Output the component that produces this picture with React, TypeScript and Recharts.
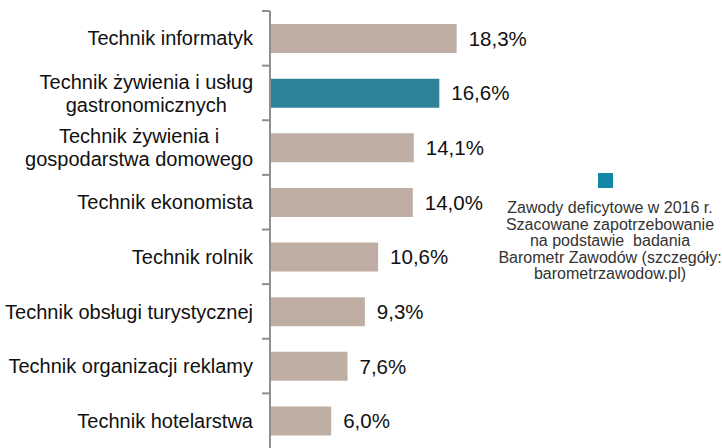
import { BarChart, Bar, XAxis, YAxis, Cell, LabelList } from 'recharts'

const categories = [
  'Technik informatyk',
  'Technik żywienia i usług\ngastronomicznych',
  'Technik żywienia i\ngospodarstwa domowego',
  'Technik ekonomista',
  'Technik rolnik',
  'Technik obsługi turystycznej',
  'Technik organizacji reklamy',
  'Technik hotelarstwa',
]
const shares = [18.3, 16.6, 14.1, 14.0, 10.6, 9.3, 7.6, 6.0]
const deficit = [false, true, false, false, false, false, false, false]
const legendLines = [
  'Zawody deficytowe w 2016 r.',
  'Szacowane zapotrzebowanie',
  'na podstawie  badania',
  'Barometr Zawodów (szczegóły:',
  'barometrzawodow.pl)',
]

const data = categories.map((name, i) => ({ name, share: shares[i], deficit: deficit[i] }))

const W = 722
const H = 448
const MARGIN = { top: 11, right: 44, bottom: 0, left: 0 }
const BAND = (H - MARGIN.top - MARGIN.bottom) / categories.length
const TICK_SIZE = 8
const TICK_MARGIN = 9
const AXIS_COLOR = '#8f8f8f'
const FONT = '"Liberation Sans", Arial, sans-serif'
const LABEL_SIZE = 20
const LINE_H = 23

const TAN = '#bfaea4'
const TEAL = '#2e8399'

let ctx: CanvasRenderingContext2D | null = null
function measure(s: string) {
  if (!ctx) ctx = document.createElement('canvas').getContext('2d')
  if (!ctx) return s.length * LABEL_SIZE * 0.5
  ctx.font = `${LABEL_SIZE}px ${FONT}`
  return ctx.measureText(s).width
}

function CategoryTick(props: any) {
  const { x, y, payload } = props
  const lines = String(payload.value).split('\n')
  const axisX = x + TICK_SIZE + TICK_MARGIN
  const multi = lines.length > 1
  const anchorX = multi ? x - Math.max(...lines.map(measure)) / 2 : x
  const first = -((lines.length - 1) * LINE_H) / 2
  return (
    <g>
      <line x1={axisX - TICK_SIZE} x2={axisX} y1={y - BAND / 2} y2={y - BAND / 2}
        stroke={AXIS_COLOR} strokeWidth={2} />
      <text textAnchor={multi ? 'middle' : 'end'} fontSize={LABEL_SIZE} fontFamily={FONT} fill="#111">
        {lines.map((l, i) => (
          <tspan key={i} x={anchorX} y={y + first + i * LINE_H + LABEL_SIZE * 0.355}>{l}</tspan>
        ))}
      </text>
    </g>
  )
}

export default function App() {
  return (
    <div style={{ position: 'absolute', left: 0, top: 0, width: W, height: H, background: '#fff', fontFamily: FONT }}>
      <BarChart width={W} height={H} data={data} layout="vertical" margin={MARGIN}>
        <XAxis type="number" domain={[0, 40]} hide />
        <YAxis
          type="category"
          dataKey="name"
          width={270}
          tickSize={TICK_SIZE}
          tickMargin={TICK_MARGIN}
          tickLine={false}
          axisLine={{ stroke: AXIS_COLOR, strokeWidth: 2 }}
          tick={<CategoryTick />}
          interval={0}
        />
        <Bar dataKey="share" barSize={29} isAnimationActive={false}>
          {data.map((d, i) => (
            <Cell key={i} fill={d.deficit ? TEAL : TAN} />
          ))}
          <LabelList
            dataKey="share"
            position="right"
            offset={12}
            fill="#111"
            fontSize={20.5}
            fontFamily={FONT}
            formatter={(v: any) => Number(v).toFixed(1).replace('.', ',') + '%'}
          />
        </Bar>
      </BarChart>
      <div style={{ position: 'absolute', left: 497, top: 173, width: 226, textAlign: 'center', color: '#333', fontSize: 16, lineHeight: '16.5px' }}>
        <div style={{ width: 15, height: 15, background: '#1486a6', margin: '0 auto 12px', position: 'relative', left: -5 }} />
        {legendLines.map((l, i) => (
          <div key={i} style={{ whiteSpace: 'pre' }}>{l}</div>
        ))}
      </div>
    </div>
  )
}
